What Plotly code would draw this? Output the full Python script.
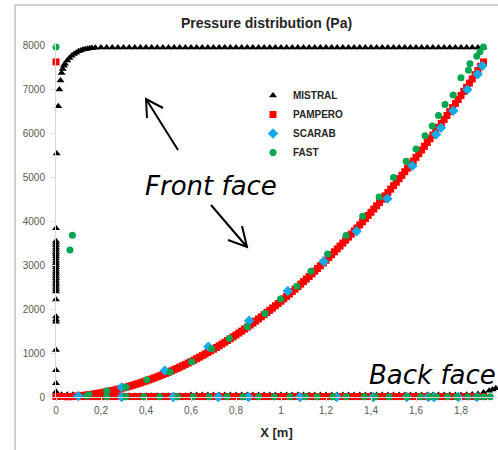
import plotly.graph_objects as go

# ---------------- data ----------------
x_grid = [0.0, 0.025, 0.05, 0.075, 0.1, 0.125, 0.15, 0.175, 0.2, 0.225, 0.25, 0.275, 0.3, 0.325,
          0.35, 0.375, 0.4, 0.425, 0.45, 0.475, 0.5, 0.525, 0.55, 0.575, 0.6, 0.625, 0.65, 0.675,
          0.7, 0.725, 0.75, 0.775, 0.8, 0.825, 0.85, 0.875, 0.9, 0.925, 0.95, 0.975, 1.0, 1.025,
          1.05, 1.075, 1.1, 1.125, 1.15, 1.175, 1.2, 1.225, 1.25, 1.275, 1.3, 1.325, 1.35, 1.375,
          1.4, 1.425, 1.45, 1.475, 1.5, 1.525, 1.55, 1.575, 1.6, 1.625, 1.65, 1.675, 1.7, 1.725,
          1.75, 1.775, 1.8, 1.825, 1.85, 1.875, 1.9]

# MISTRAL (black triangles)
mistral_col_x = [0.0, 0.0, 0.0, 0.0, 0.0, 0.0, 0.0, 0.0, 0.0, 0.0, 0.0, 0.0, 0.0, 0.0,
                 0.0, 0.0, 0.0, 0.0, 0.0, 0.0, 0.0, 0.0, 0.0, 0.0, 0.0, 0.0, 0.0, 0.0,
                 0.0, 0.0, 0.0, 0.0, 0.0]
mistral_col_y = [120, 310, 610, 1070, 1710, 1760, 1830, 2220, 2400, 2450, 2500, 2550, 2600, 2650,
                 2700, 2750, 2800, 2850, 2900, 2950, 3000, 3050, 3100, 3150, 3200, 3250, 3300, 3350,
                 3400, 3450, 3500, 3550, 3840]
mistral_rise_x = [0.003, 0.01, 0.015, 0.02, 0.025, 0.03, 0.035, 0.04, 0.05, 0.06, 0.07, 0.08, 0.09,
                  0.1, 0.11, 0.12, 0.13, 0.14, 0.15, 0.16, 0.175]
mistral_rise_y = [5540, 6610, 6990, 7200, 7370, 7460, 7530, 7580, 7650, 7710, 7760, 7800, 7830,
                  7860, 7880, 7900, 7910, 7920, 7930, 7935, 7940]
mistral_flat_y = [7945, 7948, 7950, 7950, 7950, 7950, 7950, 7950, 7950, 7950, 7950, 7950, 7950,
                  7950, 7950, 7950, 7950, 7950, 7950, 7950, 7950, 7950, 7950, 7950, 7950, 7950,
                  7950, 7950, 7950, 7950, 7950, 7950, 7950, 7950, 7950, 7950, 7950, 7950, 7950,
                  7950, 7950, 7950, 7950, 7950, 7950, 7950, 7950, 7950, 7950, 7950, 7950, 7950,
                  7950, 7950, 7950, 7950, 7950, 7950, 7950, 7950, 7950, 7950, 7950, 7950, 7950,
                  7950, 7950, 7950, 7950]  # on x_grid from 0.2 to 1.9
mistral_back_y = [50, 50, 50, 50, 50, 30, 30, 30, 30, 30, 30, 30, 30, 30, 30, 30, 30, 30, 30, 30,
                  30, 30, 30, 30, 45, 45, 45, 45, 45, 45, 45, 45, 45, 45, 45, 45, 45, 45, 45, 45,
                  45, 45, 45, 45, 45, 45, 45, 45, 45, 45, 45, 45, 45, 45, 45, 45, 45, 45, 45, 45,
                  45, 45, 45, 45, 45, 45, 45, 45, 45, 45, 45, 45, 45, 50, 55, 70, 100]  # on x_grid
mistral_tail_x = [1.925, 1.94, 1.955, 1.97]
mistral_tail_y = [140, 170, 200, 235]

# PAMPERO (red squares)
pampero_front_x = [0.05, 0.0625, 0.075, 0.0875, 0.1, 0.1125, 0.125, 0.1375, 0.15, 0.1625, 0.175,
                   0.1875, 0.2, 0.2125, 0.225, 0.2375, 0.25, 0.2625, 0.275, 0.2875, 0.3, 0.3125,
                   0.325, 0.3375, 0.35, 0.3625, 0.375, 0.3875, 0.4, 0.4125, 0.425, 0.4375, 0.45,
                   0.4625, 0.475, 0.4875, 0.5, 0.5125, 0.525, 0.5375, 0.55, 0.5625, 0.575, 0.5875,
                   0.6, 0.6125, 0.625, 0.6375, 0.65, 0.6625, 0.675, 0.6875, 0.7, 0.7125, 0.725,
                   0.7375, 0.75, 0.7625, 0.775, 0.7875, 0.8, 0.8125, 0.825, 0.8375, 0.85, 0.8625,
                   0.875, 0.8875, 0.9, 0.9125, 0.925, 0.9375, 0.95, 0.9625, 0.975, 0.9875, 1.0,
                   1.0125, 1.025, 1.0375, 1.05, 1.0625, 1.075, 1.0875, 1.1, 1.1125, 1.125, 1.1375,
                   1.15, 1.1625, 1.175, 1.1875, 1.2, 1.2125, 1.225, 1.2375, 1.25, 1.2625, 1.275,
                   1.2875, 1.3, 1.3125, 1.325, 1.3375, 1.35, 1.3625, 1.375, 1.3875, 1.4, 1.4125,
                   1.425, 1.4375, 1.45, 1.4625, 1.475, 1.4875, 1.5, 1.5125, 1.525, 1.5375, 1.55,
                   1.5625, 1.575, 1.5875, 1.6, 1.6125, 1.625, 1.6375, 1.65, 1.6625, 1.675, 1.6875,
                   1.7, 1.7125, 1.725, 1.7375, 1.75, 1.7625, 1.775, 1.7875, 1.8, 1.8125, 1.825,
                   1.8375, 1.85, 1.8625, 1.875, 1.8875, 1.9]
pampero_front_y = [6, 10, 14, 19, 24, 31, 38, 46, 54, 63, 73, 84, 95, 107, 120, 133, 146, 161, 176,
                   192, 208, 225, 243, 262, 281, 301, 322, 343, 365, 388, 411, 435, 459, 484, 510,
                   537, 564, 592, 620, 649, 679, 710, 741, 773, 805, 838, 872, 906, 941, 977, 1013,
                   1050, 1087, 1125, 1164, 1204, 1244, 1285, 1326, 1368, 1411, 1454, 1498, 1543,
                   1588, 1634, 1680, 1727, 1775, 1823, 1872, 1922, 1972, 2023, 2075, 2127, 2180,
                   2233, 2287, 2342, 2397, 2453, 2509, 2566, 2624, 2683, 2742, 2802, 2862, 2923,
                   2985, 3047, 3110, 3173, 3237, 3302, 3367, 3433, 3500, 3568, 3636, 3704, 3773,
                   3843, 3913, 3984, 4056, 4128, 4201, 4274, 4348, 4423, 4498, 4574, 4651, 4728,
                   4806, 4884, 4963, 5043, 5123, 5204, 5285, 5367, 5450, 5533, 5617, 5702, 5787,
                   5873, 5959, 6046, 6133, 6221, 6310, 6400, 6490, 6581, 6672, 6764, 6857, 6950,
                   7044, 7138, 7233, 7329, 7425, 7522, 7620]
pampero_back_y = [12, 12, 10, 10, 10, 10, 10, 10, 10, 10, 10, 10, 10, 10, 10, 10, 10, 10, 10, 10,
                  10, 10, 10, 10, 10, 10, 10, 10, 10, 10, 10, 10, 10, 10, 10, 10, 10, 10, 10, 10,
                  10, 10, 10, 10, 10, 10, 10, 10, 10, 10, 10, 10, 10, 10, 10, 10, 10, 10, 10, 10,
                  10, 10, 10, 10, 10, 10, 10, 10, 10, 10, 10, 10, 10, 10, 10, 10, 10]  # on x_grid
pampero_stag_x = [0.0]
pampero_stag_y = [7620]

# SCARAB (blue diamonds)
scarab_front_x = [0.099, 0.292, 0.484, 0.677, 0.858, 1.03, 1.19, 1.336, 1.473, 1.584, 1.689,
                  1.711, 1.766, 1.828, 1.874, 1.895]
scarab_front_y = [20, 220, 600, 1145, 1735, 2410, 3080, 3770, 4510, 5260, 5970, 6120, 6510,
                  6990, 7340, 7530]
scarab_back_x = [0.292, 0.521, 0.721, 0.855, 1.084, 1.247, 1.41, 1.559, 1.655, 1.68, 1.788, 1.87]
scarab_back_y = [0, 0, 0, 0, 0, 0, 0, 0, 0, 0, 0, 0]

# FAST (green circles)
fast_front_x = [0.0, 0.062, 0.073, 0.136, 0.147, 0.225, 0.311, 0.403, 0.507, 0.603, 0.692, 0.77,
                0.85, 0.929, 0.998, 1.07, 1.133, 1.207, 1.289, 1.363, 1.436, 1.5, 1.556, 1.6, 1.64,
                1.672, 1.7, 1.729, 1.765, 1.8, 1.833, 1.84, 1.87, 1.884, 1.9]
fast_front_y = [7960, 3340, 3680, 20, 50, 140, 220, 390, 570, 800, 1100, 1330, 1600, 1900, 2230,
                2520, 2860, 3250, 3670, 4110, 4550, 4990, 5360, 5640, 5940, 6160, 6400, 6650,
                6870, 7260, 7430, 7580, 7750, 7850, 7960]
fast_back_x = [0.225, 0.31, 0.39, 0.46, 0.54, 0.61, 0.68, 0.76, 0.83, 0.9, 0.97, 1.04, 1.11, 1.16,
               1.23, 1.29, 1.37, 1.42, 1.48, 1.56, 1.62, 1.66, 1.69, 1.74, 1.78, 1.83, 1.87, 1.9,
               1.93]
fast_back_y = [5, 5, 5, 5, 5, 5, 5, 5, 5, 5, 5, 5, 5, 5, 5, 5, 5, 5, 5, 5, 5, 5, 5, 5, 5, 5, 5, 5, 5]

x_tick_vals = [0, 0.2, 0.4, 0.6, 0.8, 1.0, 1.2, 1.4, 1.6, 1.8, 2.0]
x_tick_text = ["0", "0,2", "0,4", "0,6", "0,8", "1", "1,2", "1,4", "1,6", "1,8", "2"]
y_tick_vals = [0, 1000, 2000, 3000, 4000, 5000, 6000, 7000, 8000]
y_tick_text = ["0", "1000", "2000", "3000", "4000", "5000", "6000", "7000", "8000"]

# ---------------- assemble series ----------------
mistral_x = mistral_col_x + mistral_rise_x + x_grid[8:] + x_grid + mistral_tail_x
mistral_y = mistral_col_y + mistral_rise_y + mistral_flat_y + mistral_back_y + mistral_tail_y
pampero_x = pampero_stag_x + pampero_front_x + x_grid
pampero_y = pampero_stag_y + pampero_front_y + pampero_back_y
scarab_x = scarab_front_x + scarab_back_x
scarab_y = scarab_front_y + scarab_back_y
fast_x = fast_front_x + fast_back_x
fast_y = fast_front_y + fast_back_y

# ---------------- layout geometry (pixels) ----------------
W_FIG, H_FIG = 498, 450
L, T, PW, PH = 56, 43, 441, 354


def px(xp):
    return (xp - L) / PW


def py(yp):
    return (T + PH - yp) / PH


fig = go.Figure()
series = [
    ("MISTRAL", mistral_x, mistral_y, "triangle-up", "#000000", 7),
    ("PAMPERO", pampero_x, pampero_y, "square", "#ff0000", 7),
    ("SCARAB", scarab_x, scarab_y, "diamond", "#14a9e8", 8),
    ("FAST", fast_x, fast_y, "circle", "#00a650", 7),
]
for name, xs, ys, sym, col, sz in series:
    fig.add_trace(go.Scatter(
        x=xs, y=ys, mode="markers", name=name, cliponaxis=False,
        marker=dict(symbol=sym, color=col, size=sz, line=dict(width=0)),
    ))

tick_font = dict(family="Liberation Sans, Arial, sans-serif", size=10, color="#595959")
note_font = dict(family="DejaVu Sans ExtraLight, DejaVu Sans, sans-serif", size=26,
                 color="#000000", weight=200)

fig.update_layout(
    width=W_FIG, height=H_FIG,
    margin=dict(l=L, r=W_FIG - L - PW, t=T, b=H_FIG - T - PH, pad=0),
    paper_bgcolor="white", plot_bgcolor="white",
    showlegend=True,
    legend=dict(
        x=px(253), y=py(81), xanchor="left", yanchor="top",
        font=dict(family="Liberation Sans, Arial, sans-serif", size=10, color="#262626", weight="bold"),
        bgcolor="rgba(0,0,0,0)", itemwidth=30, tracegroupgap=0,
    ),
    xaxis=dict(
        range=[0, 1.96], showgrid=False, zeroline=False, showline=True,
        linecolor="#d9d9d9", linewidth=1, ticks="outside", ticklen=4, tickcolor="#d9d9d9",
        tickvals=x_tick_vals, ticktext=x_tick_text, tickfont=tick_font,
        title=dict(text="<b>X [m]</b>", standoff=12,
                   font=dict(family="Liberation Sans, Arial, sans-serif", size=13, color="#262626")),
    ),
    yaxis=dict(
        range=[0, 8050], showgrid=False, zeroline=False, showline=True,
        linecolor="#d9d9d9", linewidth=1, ticks="outside", ticklen=4, tickcolor="#d9d9d9",
        tickvals=y_tick_vals, ticktext=y_tick_text, tickfont=tick_font, ticklabelstandoff=4,
    ),
    annotations=[
        dict(text="<b>Pressure distribution (Pa)</b>", xref="paper", yref="paper",
             x=px(266), y=py(23), xanchor="center", yanchor="middle", showarrow=False,
             font=dict(family="Liberation Sans, Arial, sans-serif", size=14, color="#262626")),
        dict(text="<i>Front face</i>", xref="paper", yref="paper",
             x=px(211), y=py(186), xanchor="center", yanchor="middle", showarrow=False,
             font=note_font),
        dict(text="<i>Back face</i>", xref="paper", yref="paper",
             x=px(367), y=py(375), xanchor="left", yanchor="middle", showarrow=False,
             font=note_font),
    ],
    shapes=[
        dict(type="rect", xref="paper", yref="paper", x0=px(15), y0=py(480), x1=px(530), y1=py(5),
             line=dict(color="#a6a6a6", width=1), fillcolor="rgba(0,0,0,0)", layer="below"),
        dict(type="path", xref="paper", yref="paper",
             path=(f"M {px(178)},{py(150)} L {px(146)},{py(99)} "
                   f"M {px(163)},{py(108)} L {px(146)},{py(99)} L {px(147)},{py(118)}"),
             line=dict(color="#000000", width=2)),
        dict(type="path", xref="paper", yref="paper",
             path=(f"M {px(211)},{py(205)} L {px(247)},{py(247)} "
                   f"M {px(228)},{py(240)} L {px(247)},{py(247)} L {px(242)},{py(226)}"),
             line=dict(color="#000000", width=2)),
    ],
)

fig.write_html("out.html")
